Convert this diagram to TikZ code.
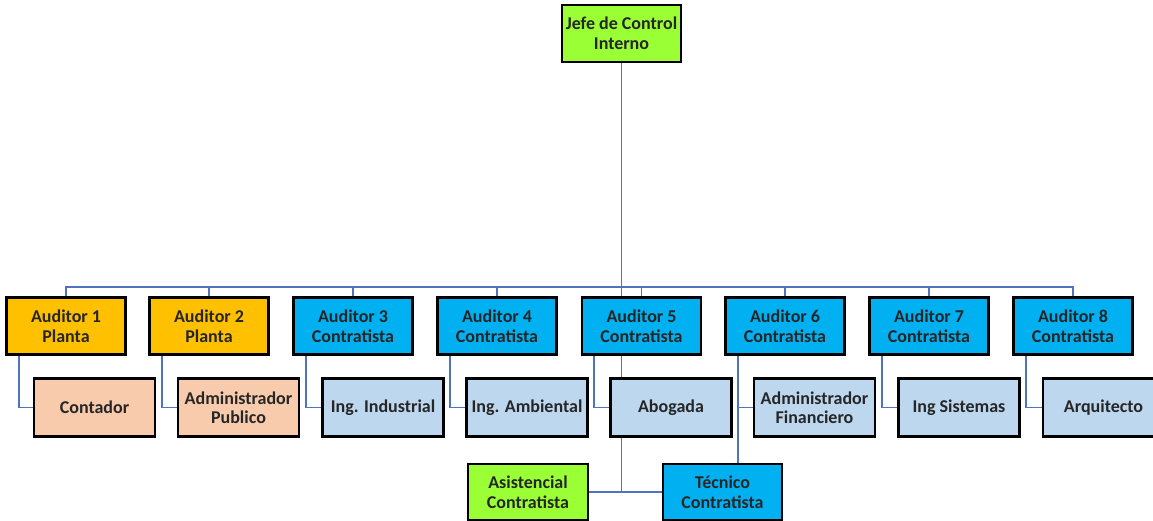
\documentclass[tikz,border=0pt]{standalone}
\usepackage{fontspec}
\setmainfont{Carlito}
\usetikzlibrary{backgrounds,calc}
\definecolor{jgreen}{RGB}{155,255,53}
\definecolor{jorange}{RGB}{255,192,0}
\definecolor{jblue}{RGB}{0,176,240}
\definecolor{jpeach}{RGB}{248,203,173}
\definecolor{jlblue}{RGB}{189,215,238}
\definecolor{jline}{RGB}{80,115,190}
\tikzset{
  x=1pt,y=-1pt,
  box/.style={draw=black,line width=2.6pt,rectangle,inner sep=0pt,
    minimum width=119pt,minimum height=57pt,align=center,
    font=\fontsize{18}{19.5}\selectfont\bfseries,text=black!85},
  sub/.style={box,minimum width=121pt,minimum height=58pt},
  conn/.style={draw=jline,line width=1.6pt}
}
\begin{document}
\begin{tikzpicture}
\useasboundingbox (0,0) rectangle (1153,521);
\clip (0,0) rectangle (1153,521);
% top
\node[box,fill=jgreen] (jefe) at (621.5,33.5) {Jefe de Control\\Interno};
% level 1
\node[box,fill=jorange] (A1) at (66,326) {Auditor 1\\Planta};
\node[box,fill=jorange] (A2) at (209,326) {Auditor 2\\Planta};
\node[box,fill=jblue] (A3) at (353,326) {Auditor 3\\Contratista};
\node[box,fill=jblue] (A4) at (497,326) {Auditor 4\\Contratista};
\node[box,fill=jblue] (A5) at (641.5,326) {Auditor 5\\Contratista};
\node[box,fill=jblue] (A6) at (785,326) {Auditor 6\\Contratista};
\node[box,fill=jblue] (A7) at (929,326) {Auditor 7\\Contratista};
\node[box,fill=jblue] (A8) at (1073,326) {Auditor 8\\Contratista};
% level 2
\node[sub,fill=jpeach] (B1) at (94.5,407.5) {Contador};
\node[sub,fill=jpeach] (B2) at (238.5,407.5) {Administrador\\Publico};
\node[sub,fill=jlblue] (B3) at (383,407.5) {Ing. Industrial};
\node[sub,fill=jlblue] (B4) at (527,407.5) {Ing. Ambiental};
\node[sub,fill=jlblue] (B5) at (671,407.5) {Abogada};
\node[sub,fill=jlblue] (B6) at (814.5,407.5) {Administrador\\Financiero};
\node[sub,fill=jlblue] (B7) at (959,407.5) {Ing Sistemas};
\node[sub,fill=jlblue] (B8) at (1103.5,407.5) {Arquitecto};
% level 3
\node[box,fill=jgreen,minimum width=120pt,minimum height=56pt] (asis) at (528,492) {Asistencial\\Contratista};
\node[box,fill=jblue,minimum width=119pt,minimum height=56pt] (tec) at (722.5,492) {Técnico\\Contratista};
\begin{scope}[on background layer]
  \coordinate (bus) at (622.5,287);
  \draw[conn] (jefe.south) -- (jefe.south |- asis.east);
  \foreach \n in {A1,A2,A3,A4,A5,A6,A7,A8}
    \draw[conn] (bus) -| (\n.north);
  \foreach \a/\b in {A1/B1,A2/B2,A3/B3,A4/B4,A5/B5,A6/B6,A7/B7,A8/B8}
    \draw[conn] ($(\a.south west)+(13.5,0)$) |- (\b.west);
  \coordinate (a6d) at ($(A6.south west)+(13.5,0)$);
  \draw[conn] (a6d) -- (a6d |- tec.north);
  \draw[conn] (asis.east) -- (tec.west);
\end{scope}
\end{tikzpicture}
\end{document}
